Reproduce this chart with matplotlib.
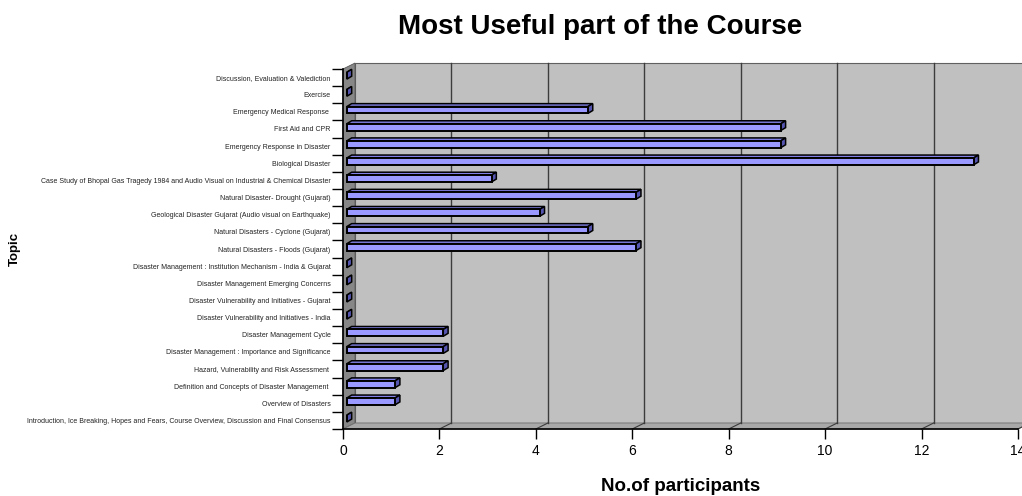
import matplotlib
matplotlib.use("Agg")
import matplotlib.pyplot as plt
from matplotlib.patches import Polygon, Rectangle

topics = [
    "Discussion, Evaluation & Valediction",
    "Exercise",
    "Emergency Medical Response ",
    "First Aid and CPR",
    "Emergency Response in Disaster",
    "Biological Disaster",
    "Case Study of Bhopal Gas Tragedy 1984 and Audio Visual on Industrial & Chemical Disaster",
    "Natural Disaster- Drought (Gujarat)",
    "Geological Disaster Gujarat (Audio visual on Earthquake)",
    "Natural Disasters - Cyclone (Gujarat)",
    "Natural Disasters - Floods (Gujarat)",
    "Disaster Management : Institution Mechanism - India & Gujarat",
    "Disaster Management Emerging Concerns",
    "Disaster Vulnerability and Initiatives - Gujarat",
    "Disaster Vulnerability and Initiatives - India",
    "Disaster Management Cycle",
    "Disaster Management : Importance and Significance",
    "Hazard, Vulnerability and Risk Assessment ",
    "Definition and Concepts of Disaster Management ",
    "Overview of Disasters",
    "Introduction, Ice Breaking, Hopes and Fears, Course Overview, Discussion and Final Consensus",
]
participants = [0, 0, 5, 9, 9, 13, 3, 6, 4, 5, 6, 0, 0, 0, 0, 2, 2, 2, 1, 1, 0]
xticks = [0, 2, 4, 6, 8, 10, 12, 14]

plt.rcParams['font.family'] = ['Liberation Sans', 'DejaVu Sans']

W, H = 1022, 496
fig = plt.figure(figsize=(W / 100, H / 100), dpi=100)
x0, x1 = 343, 1018
ybot, ytop = 429, 63
ax = fig.add_axes([x0 / W, 1 - ybot / H, (x1 - x0) / W, (ybot - ytop) / H])

n = len(topics)
dx, dy = 0.25, 0.35
ax.set_xlim(0, 14)
ax.set_ylim(-0.5, n - 0.5 + dy)

# walls
ax.add_patch(Polygon([(0, -0.5), (0, n - 0.5), (dx, n - 0.5 + dy), (dx, -0.5 + dy)],
                     closed=True, facecolor="#878787", edgecolor="#555555", lw=0.6, clip_on=False, zorder=1))
ax.add_patch(Rectangle((dx, -0.5 + dy), 14, n, facecolor="#c0c0c0", edgecolor="#606060",
                       lw=0.8, clip_on=False, zorder=0.5))
ax.add_patch(Polygon([(0, -0.5), (14, -0.5), (14 + dx, -0.5 + dy), (dx, -0.5 + dy)],
                     closed=True, facecolor="#a8a8a8", edgecolor="#707070", lw=0.6, clip_on=False, zorder=1))
for xv in xticks[1:]:
    ax.plot([xv + dx, xv + dx], [-0.5 + dy, n - 0.5 + dy], color="#3c3c3c", lw=1.0, zorder=1.2, clip_on=False)
    ax.plot([xv, xv + dx], [-0.5, -0.5 + dy], color="#3c3c3c", lw=0.8, zorder=1.2, clip_on=False)

# bars
bh = 0.40
bdx, bdy = 0.1, 0.17
xoff, yoff = 0.08, 0.11
for k, v in enumerate(participants):
    yc = n - 1 - k + yoff
    yb, yt = yc - bh / 2, yc + bh / 2
    xs, xe = xoff, xoff + v
    ax.add_patch(Polygon([(xs, yt), (xe, yt), (xe + bdx, yt + bdy), (xs + bdx, yt + bdy)],
                         closed=True, facecolor="#8080e6", edgecolor="black", lw=1.1, zorder=3))
    ax.add_patch(Polygon([(xe, yb), (xe + bdx, yb + bdy), (xe + bdx, yt + bdy), (xe, yt)],
                         closed=True, facecolor="#5555b0", edgecolor="black", lw=1.1, zorder=3))
    ax.add_patch(Rectangle((xs, yb), v, bh, facecolor="#9999ff", edgecolor="black", lw=1.4, zorder=3.5))

# axes styling
for s in ["top", "right"]:
    ax.spines[s].set_visible(False)
ax.spines["left"].set_bounds(-0.5, n - 0.5)
ax.spines["bottom"].set_bounds(0, 14)
ax.spines["left"].set_linewidth(1.2)
ax.spines["bottom"].set_linewidth(1.2)
ax.spines["left"].set_zorder(4)
ax.spines["bottom"].set_zorder(4)

ax.set_xticks(xticks)
ax.set_xticklabels([str(t) for t in xticks], fontsize=10)
ax.tick_params(axis="x", length=7, width=1.0, direction="out", pad=4)

ax.set_yticks([i - 0.5 for i in range(n + 1)])
ax.set_yticklabels([])
ax.set_yticks(list(range(n)), minor=True)
ax.set_yticklabels(topics[::-1], minor=True, fontsize=5.0, color="#222222")
ax.tick_params(axis="y", which="major", length=8, width=1.0, direction="out")
ax.tick_params(axis="y", which="minor", length=0, pad=9)

fig.text(600 / W, 1 - 34 / H, "Most Useful part of the Course", ha="center", va="baseline",
         fontsize=20, fontweight="bold")
fig.text(681 / W, 1 - 491 / H, "No.of participants", ha="center", va="baseline",
         fontsize=13.5, fontweight="bold")
fig.text(15 / W, 1 - 249 / H, "Topic", ha="center", va="center", rotation=90,
         fontsize=9.5, fontweight="bold")

fig.savefig("out.png", dpi=100)
